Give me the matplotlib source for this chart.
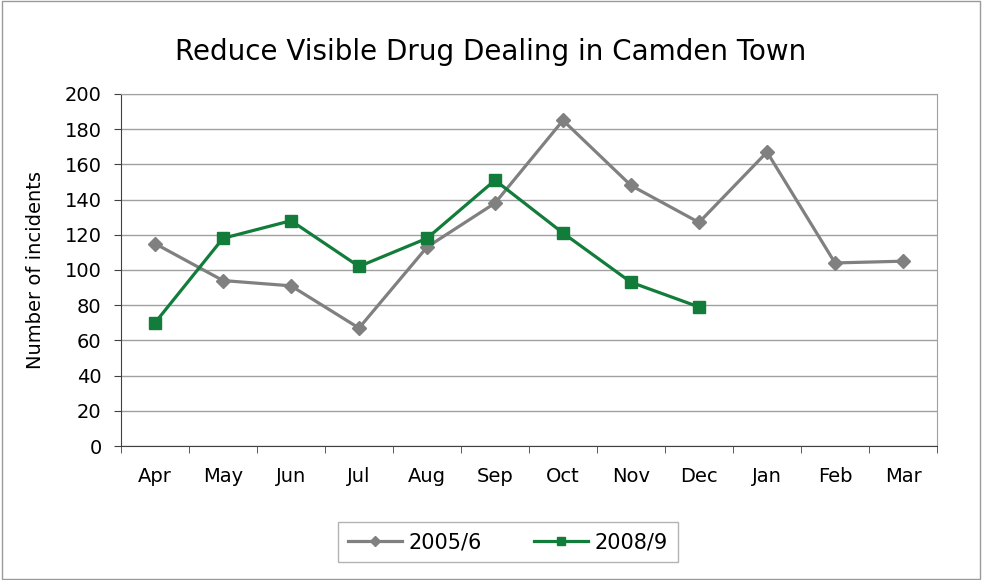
import matplotlib
matplotlib.use('Agg')
import matplotlib.pyplot as plt
from matplotlib.patches import Rectangle

plt.rcParams['font.family'] = ['DejaVu Sans']

months = ['Apr', 'May', 'Jun', 'Jul', 'Aug', 'Sep', 'Oct', 'Nov', 'Dec', 'Jan', 'Feb', 'Mar']
series_2005 = [115, 94, 91, 67, 113, 138, 185, 148, 127, 167, 104, 105]
series_2008 = [70, 118, 128, 102, 118, 151, 121, 93, 79]

GRAY = '#808080'
GREEN = '#127c3a'

fig = plt.figure(figsize=(9.82, 5.8), dpi=100)
# outer chart border
fig.patches.append(Rectangle((0.002, 0.002), 0.996, 0.996, transform=fig.transFigure,
                             fill=False, edgecolor='#9a9a9a', linewidth=1))
ax = fig.add_axes([0.1232, 0.231, 0.831, 0.607])

x = list(range(len(months)))
ax.plot(x, series_2005, color=GRAY, linewidth=2.3, marker='D', markersize=7,
        label='2005/6')
ax.plot(x[:len(series_2008)], series_2008, color=GREEN, linewidth=2.3, marker='s',
        markersize=8, label='2008/9')

ax.set_xlim(-0.5, 11.5)
ax.set_ylim(0, 200)
ax.set_yticks(range(0, 201, 20))
ax.set_xticks(x)
ax.set_xticklabels(months)
# Excel-style ticks between categories
ax.set_xticks([i - 0.5 for i in range(13)], minor=True)
ax.tick_params(axis='x', which='major', length=0, pad=15, labelsize=14)
ax.tick_params(axis='x', which='minor', length=5, direction='out', color='#404040')
ax.tick_params(axis='y', length=5, direction='out', pad=9, labelsize=14, color='#404040')
ax.grid(axis='y', color='#a0a0a0', linewidth=1)
ax.set_axisbelow(True)

for side in ['top', 'right']:
    ax.spines[side].set_color('#a0a0a0')
for side in ['left', 'bottom']:
    ax.spines[side].set_color('#404040')

ax.set_ylabel('Number of incidents', fontsize=14)
ax.yaxis.set_label_coords(-0.093, 0.5)
fig.text(0.5, 0.91, 'Reduce Visible Drug Dealing in Camden Town', ha='center',
         va='center', fontsize=20)

fig.legend(loc='center', bbox_to_anchor=(0.517, 0.0655), ncol=2, fontsize=15,
           frameon=True, fancybox=False, edgecolor='#a0a0a0', handlelength=2.6,
           handletextpad=0.3, columnspacing=2.5, borderpad=0.5, markerscale=0.8)

fig.savefig('out.png', dpi=100)
